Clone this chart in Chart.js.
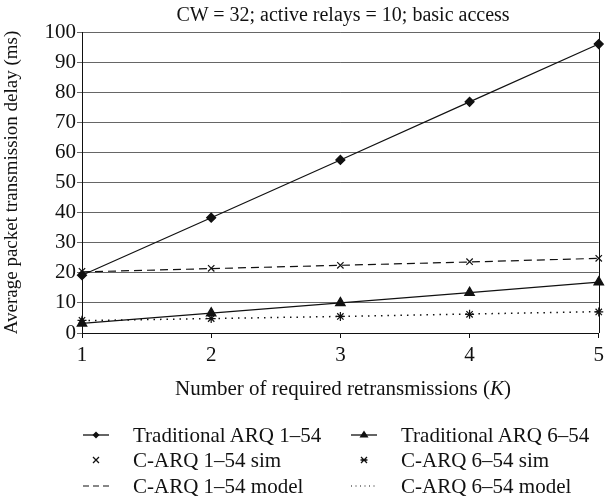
<!DOCTYPE html>
<html>
<head>
<meta charset="utf-8">
<script src="https://cdn.jsdelivr.net/npm/chart.js@4"></script>
<style>
  body { margin: 0; background: #fff; }
  #wrap { position: relative; width: 609px; height: 498px; font-family: "Liberation Serif", "DejaVu Serif", serif; color: #111; }
  #chart { position: absolute; left: 0; top: 0; }
  .txt { position: absolute; white-space: nowrap; line-height: 24px; }
  #title { left: 0; width: 686px; top: 2px; text-align: center; font-size: 20px; }
  #xtitle { left: 0; width: 686px; top: 376px; text-align: center; font-size: 21px; }
  .leg { position: absolute; font-size: 21px; line-height: 24px; display: flex; align-items: center; }
  .leg svg { margin-right: 24px; }
</style>
</head>
<body>
<div id="wrap">
  <canvas id="chart" width="609" height="498"></canvas>
  <div class="txt" id="title">CW = 32; active relays = 10; basic access</div>
  <div class="txt" id="xtitle">Number of required retransmissions (<i>K</i>)</div>
  <div id="legend"></div>
</div>
<script>
// x values: number of required retransmissions K
const kValues = [1, 2, 3, 4, 5];

// delay in ms
const tradArq154 = [19.2, 38.3, 57.5, 76.8, 96.0];
const tradArq654 = [3.2, 6.6, 10.0, 13.4, 16.9];
const cArq154Sim = [20.5, 21.5, 22.5, 23.7, 24.8];
const cArq654Sim = [4.2, 4.8, 5.5, 6.2, 7.0];
const cArq154Model = [20.3, 21.4, 22.5, 23.6, 24.8];
const cArq654Model = [4.1, 4.8, 5.5, 6.3, 7.1];

const yTicks = [0, 10, 20, 30, 40, 50, 60, 70, 80, 90, 100];

const toPoints = (vals) => vals.map((v, i) => ({ x: kValues[i], y: v }));

// right border of the plot area
const frame = {
    id: 'frame',
    afterDraw(chart) {
        const { ctx, chartArea } = chart;
        ctx.save();
        ctx.strokeStyle = '#111';
        ctx.lineWidth = 1;
        ctx.beginPath();
        ctx.moveTo(Math.round(chartArea.right) + 0.5, chartArea.top);
        ctx.lineTo(Math.round(chartArea.right) + 0.5, chartArea.bottom);
        ctx.stroke();
        ctx.restore();
    }
};

const ctx = document.getElementById('chart').getContext('2d');
const myChart = new Chart(ctx, {
    type: 'line',
    data: {
        datasets: [
            { label: 'Traditional ARQ 1–54', data: toPoints(tradArq154), borderColor: '#111', backgroundColor: '#111',
              borderWidth: 1.2, pointStyle: 'rectRot', pointRadius: 4.5 },
            { label: 'Traditional ARQ 6–54', data: toPoints(tradArq654), borderColor: '#111', backgroundColor: '#111',
              borderWidth: 1.2, pointStyle: 'triangle', pointRadius: 5.5 },
            { label: 'C-ARQ 1–54 sim', data: toPoints(cArq154Sim), borderColor: '#111', backgroundColor: '#111',
              showLine: false, pointStyle: 'crossRot', pointRadius: 4.5, pointBorderWidth: 1.2 },
            { label: 'C-ARQ 6–54 sim', data: toPoints(cArq654Sim), borderColor: '#111', backgroundColor: '#111',
              showLine: false, pointStyle: 'star', pointRadius: 4.5, pointBorderWidth: 1.2 },
            { label: 'C-ARQ 1–54 model', data: toPoints(cArq154Model), borderColor: '#111',
              borderWidth: 1.2, borderDash: [8, 5], pointRadius: 0 },
            { label: 'C-ARQ 6–54 model', data: toPoints(cArq654Model), borderColor: '#111',
              borderWidth: 1.5, borderDash: [1.5, 5], pointRadius: 0 }
        ]
    },
    options: {
        responsive: false,
        animation: false,
        clip: false,
        layout: { padding: { top: 32, right: 6, left: 0, bottom: 0 } },
        plugins: { legend: { display: false }, tooltip: { enabled: false } },
        scales: {
            x: {
                type: 'linear', min: 1, max: 5,
                afterFit: (s) => { s.height = 165; },
                ticks: { stepSize: 1, color: '#111', padding: 5, font: { family: 'Liberation Serif', size: 21 } },
                grid: { drawOnChartArea: false, drawTicks: true, tickLength: 5, color: '#111' },
                border: { color: '#111', width: 1 }
            },
            y: {
                min: 0, max: 100,
                afterFit: (s) => { s.width = 82; },
                afterBuildTicks: (s) => { s.ticks = yTicks.map(v => ({ value: v })); },
                ticks: { color: '#111', padding: 1, font: { family: 'Liberation Serif', size: 21 } },
                grid: { color: '#666', lineWidth: 1, tickLength: 5 },
                border: { color: '#111', width: 1 },
                title: { display: true, text: 'Average packet transmission delay (ms)', color: '#111',
                         padding: { top: 1, bottom: 0 }, font: { family: 'Liberation Serif', size: 19 } }
            }
        }
    },
    plugins: [frame]
});

// legend in two columns, three rows
const legendItems = [
    { text: 'Traditional ARQ 1–54', sym: 'diamond', col: 0, row: 0 },
    { text: 'Traditional ARQ 6–54', sym: 'triangle', col: 1, row: 0 },
    { text: 'C-ARQ 1–54 sim', sym: 'x', col: 0, row: 1 },
    { text: 'C-ARQ 6–54 sim', sym: 'star', col: 1, row: 1 },
    { text: 'C-ARQ 1–54 model', sym: 'dash', col: 0, row: 2 },
    { text: 'C-ARQ 6–54 model', sym: 'dot', col: 1, row: 2 }
];
const symbolSvg = (sym) => {
    let s = '';
    if (sym === 'diamond') s = '<line x1="0" y1="9" x2="26" y2="9" stroke="#111" stroke-width="1.3"/><path d="M13 5.5 L16.5 9 L13 12.5 L9.5 9 Z" fill="#111"/>';
    if (sym === 'triangle') s = '<line x1="0" y1="9" x2="26" y2="9" stroke="#111" stroke-width="1.3"/><path d="M13 4.5 L17.5 11.5 L8.5 11.5 Z" fill="#111"/>';
    if (sym === 'x') s = '<path d="M10 6 L16 12 M16 6 L10 12" stroke="#111" stroke-width="1.3"/>';
    if (sym === 'star') s = '<path d="M10 6 L16 12 M16 6 L10 12 M9.5 9 L16.5 9" stroke="#111" stroke-width="1.3"/>';
    if (sym === 'dash') s = '<line x1="0" y1="9" x2="26" y2="9" stroke="#111" stroke-width="1.2" stroke-dasharray="6,4"/>';
    if (sym === 'dot') s = '<line x1="0" y1="9" x2="26" y2="9" stroke="#111" stroke-width="1.2" stroke-dasharray="1,3.5"/>';
    return '<svg width="26" height="18">' + s + '</svg>';
};
const colX = [83, 351];
const rowY = [423, 448, 474];
const legend = document.getElementById('legend');
legendItems.forEach((it) => {
    const d = document.createElement('div');
    d.className = 'leg';
    d.style.left = colX[it.col] + 'px';
    d.style.top = rowY[it.row] + 'px';
    d.innerHTML = symbolSvg(it.sym) + '<span>' + it.text + '</span>';
    legend.appendChild(d);
});
</script>
</body>
</html>
